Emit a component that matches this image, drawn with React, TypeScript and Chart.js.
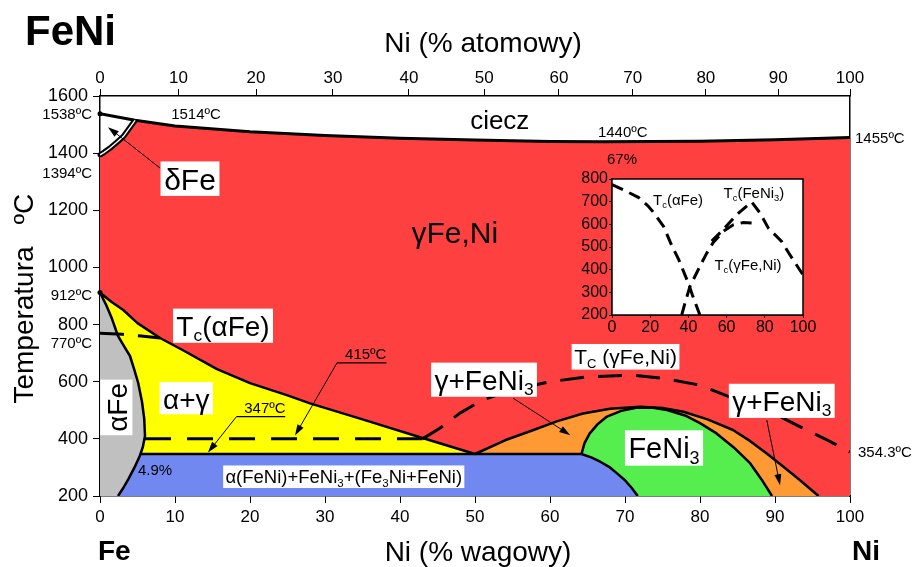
import React, { useEffect, useRef } from 'react';
import { Chart, registerables } from 'chart.js';

Chart.register(...registerables);

const FONT = '"Liberation Sans", Arial, Helvetica, sans-serif';

// ---------- main diagram: x = Ni (% wagowy), y = temperatura (°C) ----------
const AT_TICKS = [0, 10, 20, 30, 40, 50, 60, 70, 80, 90, 100]; // Ni (% atomowy)
const M_FE = 55.845;
const M_NI = 58.69;

const LIQUIDUS_X = [0, 4.67, 10, 20, 30, 40, 50, 60, 67, 80, 90, 100];
const LIQUIDUS_T = [1538, 1515, 1495, 1475, 1462, 1452, 1446, 1441, 1440, 1442, 1447, 1455];

const DELTA_X = [4.67, 3.9, 3.1, 2.2, 1.3, 0.5, 0];
const DELTA_T = [1515, 1487, 1458, 1437, 1417, 1402, 1394];

const GAMMA_X = [0, 1.5, 3.1, 5, 8, 11, 15.6, 20, 25, 28, 35, 43, 50];
const GAMMA_T = [912, 880, 851, 805, 753, 711, 644, 595, 552, 524, 468, 403, 347];

const ALPHA_X = [0, 0.8, 1.6, 2.4, 3.3, 4.0, 4.6, 5.1, 5.6, 5.9, 6.0, 5.7, 5.3, 4.6, 3.8, 3.1, 2.4];
const ALPHA_T = [912, 870, 820, 760, 720, 690, 640, 595, 530, 470, 410, 370, 340, 300, 260, 228, 200];

const EUTECTOID_X = [5.4, 64.2];
const EUTECTOID_T = [347, 347];

const BLUE_X = [64.2, 65.5, 66.7, 68, 68.9, 70, 70.9, 71.7];
const BLUE_T = [347, 335, 320, 300, 280, 255, 228, 200];

const ORANGE_X = [50, 54, 57.8, 61, 64.4, 68, 72, 75, 77.8, 81, 84.4, 86.7, 88.9, 91, 93.3, 95.8];
const ORANGE_T = [347, 395, 431, 462, 489, 505, 512, 508, 495, 468, 431, 392, 349, 305, 256, 200];

const GREEN_X = [64.2, 64.6, 65.3, 66.3, 67.6, 69.5, 71.5, 73.5, 75.6, 78, 80, 82.2, 84.5, 86.7, 88.2, 89.6];
const GREEN_T = [347, 385, 419, 450, 478, 498, 509, 510, 501, 482, 455, 419, 370, 314, 258, 200];

const TC_ALPHA_X = [0, 3, 5.5, 8];
const TC_ALPHA_T = [770, 766, 760, 753];

const MAG400_X = [6, 43];
const MAG400_T = [400, 400];

const TC_GAMMA_X = [43, 45.3, 48, 51, 55, 60, 65, 71, 75, 80, 84.4, 88.9, 93.3, 96.5, 100];
const TC_GAMMA_T = [400, 437, 490, 536, 572, 600, 617, 623, 612, 588, 542, 501, 443, 402, 354.3];

const MARK_X = [0, 0, 0];
const MARK_T = [1538, 1394, 912];

// ---------- inset ----------
const IN_X_TICKS = [0, 20, 40, 60, 80, 100];
const IN_TCA_X = [0, 7, 14, 19, 22, 27, 31, 35, 40, 42, 46];
const IN_TCA_T = [775, 748, 718, 680, 650, 591, 512, 443, 340, 290, 200];
const IN_TCG_X = [36.5, 38.2, 40.8, 46, 49.6, 53, 58.3, 63.5, 68.7, 73.1];
const IN_TCG_T = [200, 252, 326, 414, 473, 520, 569, 598, 608, 606];
const IN_TCF_X = [52.2, 58.3, 65.3, 73.1, 77.5, 81.8, 88.8, 93.2, 100];
const IN_TCF_T = [526, 577, 643, 699, 650, 584, 524, 465, 377];

const COLORS = {
  red: '#FF4040',
  yellow: '#FFFF00',
  grey: '#C0C0C0',
  blue: '#7088F0',
  orange: '#FF9933',
  green: '#55EE4E',
};

type P = { x: number; y: number };
const pts = (xs: number[], ys: number[]): P[] => xs.map((x, i) => ({ x, y: ys[i] }));
const atToWt = (a: number) => ((a * M_NI) / (a * M_NI + (100 - a) * M_FE)) * 100;

// ---------- text helpers ----------
type Part = { t: string; sub?: boolean };
const fnt = (size: number, bold = false) => `${bold ? 'bold ' : ''}${size}px ${FONT}`;

function drawRich(
  ctx: CanvasRenderingContext2D,
  parts: Part[],
  x: number,
  y: number,
  size: number,
  align: 'left' | 'center' | 'right' = 'center',
  box = false,
  bold = false
) {
  const subSize = size * 0.62;
  const widths = parts.map((p) => {
    ctx.font = fnt(p.sub ? subSize : size, bold);
    return ctx.measureText(p.t).width;
  });
  const total = widths.reduce((a, b) => a + b, 0);
  let cur = align === 'center' ? x - total / 2 : align === 'right' ? x - total : x;
  const hasSub = parts.some((p) => p.sub);
  if (box) {
    const padX = size * 0.12;
    const top = y - size * 0.6;
    const bottom = y + size * (hasSub ? 0.62 : 0.55);
    ctx.fillStyle = '#fff';
    ctx.fillRect(cur - padX, top, total + 2 * padX, bottom - top);
  }
  ctx.fillStyle = '#000';
  ctx.textAlign = 'left';
  ctx.textBaseline = 'alphabetic';
  const base = y + size * 0.36;
  parts.forEach((p, i) => {
    ctx.font = fnt(p.sub ? subSize : size, bold);
    ctx.fillText(p.t, cur, p.sub ? base + size * 0.2 : base);
    cur += widths[i];
  });
}

function arrow(ctx: CanvasRenderingContext2D, x1: number, y1: number, x2: number, y2: number) {
  const head = 11;
  const hw = 3.5;
  const a = Math.atan2(y2 - y1, x2 - x1);
  ctx.strokeStyle = '#000';
  ctx.lineWidth = 1;
  ctx.beginPath();
  ctx.moveTo(x1, y1);
  ctx.lineTo(x2 - head * 0.7 * Math.cos(a), y2 - head * 0.7 * Math.sin(a));
  ctx.stroke();
  ctx.fillStyle = '#000';
  ctx.beginPath();
  ctx.moveTo(x2, y2);
  ctx.lineTo(x2 - head * Math.cos(a) + hw * Math.sin(a), y2 - head * Math.sin(a) - hw * Math.cos(a));
  ctx.lineTo(x2 - head * Math.cos(a) - hw * Math.sin(a), y2 - head * Math.sin(a) + hw * Math.cos(a));
  ctx.closePath();
  ctx.fill();
}

const S = (t: string): Part => ({ t });
const SUB = (t: string): Part => ({ t, sub: true });

// annotations in data coordinates (x = wt% Ni, t = °C)
const BOX_LABELS: { parts: Part[]; x: number; t: number; size: number; box: boolean; rot?: boolean }[] = [
  { parts: [S('ciecz')], x: 53.3, t: 1516, size: 26, box: false },
  { parts: [S('γFe,Ni')], x: 47.3, t: 1124, size: 30, box: false },
  { parts: [S('δFe')], x: 12, t: 1308, size: 30, box: true },
  { parts: [S('T'), SUB('c'), S('(αFe)')], x: 16.4, t: 797, size: 28, box: true },
  { parts: [S('α+γ')], x: 11.5, t: 540, size: 28, box: true },
  { parts: [S('αFe')], x: 2.27, t: 510, size: 28, box: true, rot: true },
  {
    parts: [S('α(FeNi)+FeNi'), SUB('3'), S('+(Fe'), SUB('3'), S('Ni+FeNi)')],
    x: 32.5, t: 268, size: 18.5, box: true,
  },
  { parts: [S('T'), SUB('C'), S(' (γFe,Ni)')], x: 70.07, t: 688, size: 21, box: true },
  { parts: [S('γ+FeNi'), SUB('3')], x: 51.2, t: 608, size: 28, box: true },
  { parts: [S('FeNi'), SUB('3')], x: 75.2, t: 369, size: 29, box: true },
  { parts: [S('γ+FeNi'), SUB('3')], x: 90.9, t: 534, size: 28, box: true },
];

const SMALL_LABELS: { text: string; x: number; t: number; align: 'left' | 'center' | 'right' }[] = [
  { text: '1514ºC', x: 12.8, t: 1540, align: 'center' },
  { text: '1440ºC', x: 69.7, t: 1475, align: 'center' },
  { text: '67%', x: 69.6, t: 1382, align: 'center' },
  { text: '4.9%', x: 7.33, t: 291, align: 'center' },
  { text: '1538ºC', x: -1.07, t: 1538, align: 'right' },
  { text: '1394ºC', x: -1.07, t: 1331, align: 'right' },
  { text: '912ºC', x: -1.07, t: 904, align: 'right' },
  { text: '770ºC', x: -1.07, t: 736, align: 'right' },
  { text: '1455ºC', x: 100.67, t: 1453, align: 'left' },
  { text: '354.3ºC', x: 101.07, t: 357, align: 'left' },
];

const ARROWS: { x1: number; t1: number; x2: number; t2: number }[] = [
  { x1: 8, t1: 1348, x2: 1.07, t2: 1491 },
  { x1: 55.1, t1: 542, x2: 62.7, t2: 413 },
  { x1: 88.9, t1: 466, x2: 90.67, t2: 238 },
];

const LEADERS: { text: string; x1: number; x2: number; t: number; tx: number; tt: number }[] = [
  { text: '347ºC', x1: 18.2, x2: 24.7, t: 478, tx: 14.4, tt: 352 },
  { text: '415ºC', x1: 31.6, x2: 38.2, t: 666, tx: 26, tt: 412 },
];

const IN_LABELS: { parts: Part[]; x: number; t: number }[] = [
  { parts: [S('T'), SUB('c'), S('(αFe)')], x: 34.6, t: 709 },
  { parts: [S('T'), SUB('c'), S('(FeNi'), SUB('3'), S(')')], x: 74.3, t: 738 },
  { parts: [S('T'), SUB('c'), S('(γFe,Ni)')], x: 71.2, t: 424 },
];

const annotationsPlugin = {
  id: 'annotations',
  afterDraw(chart: any) {
    const ctx: CanvasRenderingContext2D = chart.ctx;
    const X = (v: number) => chart.scales.x.getPixelForValue(v);
    const Y = (v: number) => chart.scales.y.getPixelForValue(v);
    ctx.save();
    BOX_LABELS.forEach((l) => {
      if (l.rot) {
        ctx.save();
        ctx.translate(X(l.x), Y(l.t));
        ctx.rotate(-Math.PI / 2);
        drawRich(ctx, l.parts, 0, 0, l.size, 'center', l.box);
        ctx.restore();
      } else {
        drawRich(ctx, l.parts, X(l.x), Y(l.t), l.size, 'center', l.box);
      }
    });
    SMALL_LABELS.forEach((l) => drawRich(ctx, [S(l.text)], X(l.x), Y(l.t), 15, l.align));
    ARROWS.forEach((a) => arrow(ctx, X(a.x1), Y(a.t1), X(a.x2), Y(a.t2)));
    LEADERS.forEach((l) => {
      drawRich(ctx, [S(l.text)], (X(l.x1) + X(l.x2)) / 2 + 4, Y(l.t) - 9, 15, 'center');
      ctx.strokeStyle = '#000';
      ctx.lineWidth = 1.2;
      ctx.beginPath();
      ctx.moveTo(X(l.x1), Y(l.t));
      ctx.lineTo(X(l.x2), Y(l.t));
      ctx.stroke();
      arrow(ctx, X(l.x1), Y(l.t), X(l.tx), Y(l.tt));
    });
    // titles
    ctx.fillStyle = '#000';
    ctx.textBaseline = 'alphabetic';
    ctx.textAlign = 'left';
    ctx.font = fnt(42, true);
    ctx.fillText('FeNi', 25, 45);
    ctx.font = fnt(28, true);
    ctx.fillText('Fe', 98, 560);
    ctx.fillText('Ni', 852, 560);
    ctx.textAlign = 'center';
    ctx.font = fnt(28);
    ctx.fillText('Ni (% atomowy)', 483, 52);
    ctx.fillText('Ni (% wagowy)', 478, 561);
    ctx.save();
    ctx.translate(33, 325);
    ctx.rotate(-Math.PI / 2);
    ctx.fillText('Temperatura', 0, 0);
    ctx.restore();
    ctx.save();
    ctx.translate(33, 209);
    ctx.rotate(-Math.PI / 2);
    ctx.fillText('ºC', 0, 0);
    ctx.restore();
    ctx.restore();
  },
};

const insetPlugin = {
  id: 'insetDeco',
  beforeDatasetsDraw(chart: any) {
    const { ctx, chartArea: a } = chart;
    ctx.save();
    ctx.fillStyle = '#fff';
    ctx.fillRect(a.left, a.top, a.right - a.left, a.bottom - a.top);
    ctx.restore();
  },
  afterDraw(chart: any) {
    const { ctx, chartArea: a } = chart;
    const X = (v: number) => chart.scales.x.getPixelForValue(v);
    const Y = (v: number) => chart.scales.y.getPixelForValue(v);
    ctx.save();
    ctx.strokeStyle = '#000';
    ctx.lineWidth = 1.5;
    ctx.strokeRect(a.left, a.top, a.right - a.left, a.bottom - a.top);
    IN_LABELS.forEach((l) => drawRich(ctx, l.parts, X(l.x), Y(l.t), 15, 'center'));
    ctx.restore();
  },
};

function polygon(data: P[], color: string, order: number) {
  return {
    data,
    fill: 'shape',
    backgroundColor: color,
    borderColor: 'rgba(0,0,0,0)',
    borderWidth: 0,
    pointRadius: 0,
    tension: 0,
    order,
    xAxisID: 'x',
    yAxisID: 'y',
  };
}

function boundary(data: P[], width: number, dash: number[] = [], color = '#000', order = 1) {
  return {
    data,
    fill: false,
    borderColor: color,
    borderWidth: width,
    borderDash: dash,
    borderCapStyle: 'butt',
    borderJoinStyle: 'round',
    pointRadius: 0,
    tension: 0,
    order,
    xAxisID: 'x',
    yAxisID: 'y',
  };
}

const plainNum = (v: any) => String(v);

function axisCommon(size: number, tickLength: number, padding: number) {
  return {
    ticks: {
      color: '#000',
      font: { family: FONT, size },
      padding,
      autoSkip: false,
      maxRotation: 0,
      callback: plainNum,
    },
    grid: { drawOnChartArea: false, drawTicks: true, tickLength, color: '#000', lineWidth: 1 },
    border: { display: true, color: '#000', width: 1.5 },
  };
}

function mainConfig(): any {
  const redPoly = [
    { x: 0, y: 200 },
    ...pts(DELTA_X, DELTA_T).reverse(),
    ...pts(LIQUIDUS_X, LIQUIDUS_T).slice(1),
    { x: 100, y: 200 },
  ];
  const yellowPoly = [...pts(GAMMA_X, GAMMA_T), { x: 0, y: 347 }];
  const greyPoly = [...pts(ALPHA_X, ALPHA_T), { x: 0, y: 200 }];
  const bluePoly = [{ x: 0, y: 200 }, { x: 0, y: 347 }, ...pts(BLUE_X, BLUE_T)];
  const orangePoly = [...pts(ORANGE_X, ORANGE_T), { x: 64.2, y: 200 }, { x: 64.2, y: 347 }];
  const greenPoly = [...pts(GREEN_X, GREEN_T), { x: 64.2, y: 200 }];

  const base = axisCommon(17, 7, 4);
  const yBase = axisCommon(18, 7, 5);
  return {
    type: 'line',
    data: {
      datasets: [
        boundary(pts(DELTA_X, DELTA_T), 1.4, [], '#fff', 0),
        {
          data: pts(MARK_X, MARK_T),
          showLine: false,
          pointRadius: 2.5,
          pointBackgroundColor: '#000',
          pointBorderWidth: 0,
          clip: 6,
          order: 0,
          xAxisID: 'x',
          yAxisID: 'y',
        },
        boundary(pts(LIQUIDUS_X, LIQUIDUS_T), 3),
        boundary(pts(DELTA_X, DELTA_T), 5.5),
        boundary(pts(GAMMA_X, GAMMA_T), 2.5),
        boundary(pts(ALPHA_X, ALPHA_T), 2.5),
        boundary(pts(EUTECTOID_X, EUTECTOID_T), 2.5),
        boundary(pts(BLUE_X, BLUE_T), 2.5),
        boundary(pts(ORANGE_X, ORANGE_T), 2.5),
        boundary(pts(GREEN_X, GREEN_T), 2.5),
        boundary(pts(TC_ALPHA_X, TC_ALPHA_T), 3, [24, 14]),
        boundary(pts(MAG400_X, MAG400_T), 3, [26, 16]),
        boundary(pts(TC_GAMMA_X, TC_GAMMA_T), 3, [24, 14]),
        polygon(greyPoly, COLORS.grey, 2),
        polygon(bluePoly, COLORS.blue, 3),
        polygon(greenPoly, COLORS.green, 4),
        polygon(orangePoly, COLORS.orange, 5),
        polygon(yellowPoly, COLORS.yellow, 6),
        polygon(redPoly, COLORS.red, 7),
      ],
    },
    options: {
      responsive: false,
      animation: false,
      devicePixelRatio: 1,
      events: [],
      layout: { padding: 0 },
      plugins: { legend: { display: false }, tooltip: { enabled: false } },
      scales: {
        x: {
          type: 'linear',
          position: 'bottom',
          min: 0,
          max: 100,
          ...base,
          ticks: { ...base.ticks, stepSize: 10 },
          afterFit: (s: any) => {
            s.height = 71;
          },
        },
        xTop: {
          type: 'linear',
          position: 'top',
          min: 0,
          max: 100,
          ...base,
          ticks: { ...base.ticks, padding: 0, callback: (_v: any, i: number) => String(AT_TICKS[i]) },
          afterBuildTicks: (s: any) => {
            s.ticks = AT_TICKS.map((a) => ({ value: atToWt(a) }));
          },
          afterFit: (s: any) => {
            s.height = 96;
          },
        },
        y: {
          type: 'linear',
          position: 'left',
          min: 200,
          max: 1600,
          ...yBase,
          ticks: { ...yBase.ticks, stepSize: 200 },
          afterFit: (s: any) => {
            s.width = 100;
          },
        },
        yR: {
          type: 'linear',
          position: 'right',
          min: 200,
          max: 1600,
          ticks: { display: false },
          grid: { drawOnChartArea: false, drawTicks: false },
          border: { display: true, color: '#000', width: 1.5 },
          afterFit: (s: any) => {
            s.width = 62;
          },
        },
      },
    },
    plugins: [annotationsPlugin],
  };
}

function insetLine(data: P[]) {
  return {
    data,
    fill: false,
    borderColor: '#000',
    borderWidth: 3,
    borderDash: [12, 7],
    pointRadius: 0,
    tension: 0,
  };
}

function insetConfig(): any {
  const c = axisCommon(16, 3, 1);
  return {
    type: 'line',
    data: {
      datasets: [
        insetLine(pts(IN_TCA_X, IN_TCA_T)),
        insetLine(pts(IN_TCG_X, IN_TCG_T)),
        insetLine(pts(IN_TCF_X, IN_TCF_T)),
      ],
    },
    options: {
      responsive: false,
      animation: false,
      devicePixelRatio: 1,
      events: [],
      layout: { padding: { top: 14, right: 17, left: 0, bottom: 0 } },
      plugins: { legend: { display: false }, tooltip: { enabled: false } },
      scales: {
        x: {
          type: 'linear',
          min: 0,
          max: 100,
          ...c,
          ticks: { ...c.ticks, padding: 0 },
          afterBuildTicks: (s: any) => {
            s.ticks = IN_X_TICKS.map((v) => ({ value: v }));
          },
          afterFit: (s: any) => {
            s.height = 25;
          },
        },
        y: {
          type: 'linear',
          min: 200,
          max: 800,
          ...c,
          ticks: { ...c.ticks, stepSize: 100 },
          afterFit: (s: any) => {
            s.width = 52;
          },
        },
      },
    },
    plugins: [insetPlugin],
  };
}

export default function App() {
  const mainRef = useRef<HTMLCanvasElement>(null);
  const insetRef = useRef<HTMLCanvasElement>(null);
  useEffect(() => {
    const main = new Chart(mainRef.current as HTMLCanvasElement, mainConfig());
    const inset = new Chart(insetRef.current as HTMLCanvasElement, insetConfig());
    return () => {
      main.destroy();
      inset.destroy();
    };
  }, []);
  return (
    <div style={{ position: 'fixed', left: 0, top: 0, width: 912, height: 567, background: '#fff', overflow: 'hidden' }}>
      <canvas
        ref={mainRef}
        width={912}
        height={567}
        style={{ position: 'absolute', left: 0, top: 0, width: 912, height: 567 }}
      />
      <canvas
        ref={insetRef}
        width={260}
        height={175}
        style={{ position: 'absolute', left: 560, top: 165, width: 260, height: 175 }}
      />
    </div>
  );
}
